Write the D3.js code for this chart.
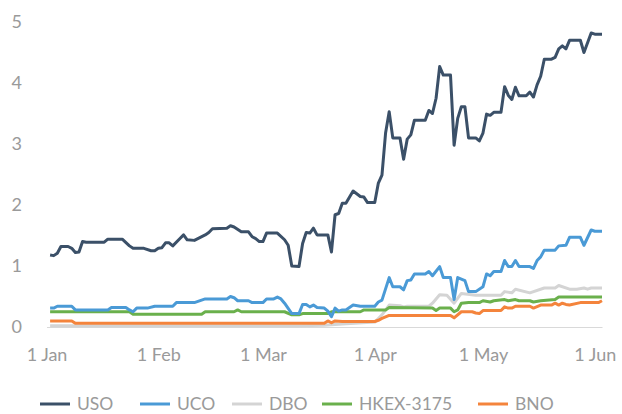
<!DOCTYPE html>
<html>
<head>
<meta charset="utf-8">
<script src="https://cdn.jsdelivr.net/npm/d3@7"></script>
<style>
  body { margin: 0; background: #fff; }
  text { font-family: Lato, "Open Sans", sans-serif; }
</style>
</head>
<body>
<script>
let width = 622;
let height = 414;

// series: [date (2020), value]
const uso = [
  ["01-02",1.18],["01-03",1.17],["01-04",1.21],["01-05",1.32],["01-07",1.32],["01-08",1.29],
  ["01-09",1.22],["01-10",1.23],["01-11",1.40],["01-12",1.39],["01-17",1.39],["01-18",1.44],
  ["01-22",1.44],["01-24",1.33],["01-25",1.29],["01-28",1.29],["01-30",1.25],["01-31",1.25],
  ["02-01",1.29],["02-02",1.30],["02-03",1.38],["02-04",1.38],["02-05",1.33],["02-07",1.45],
  ["02-08",1.51],["02-09",1.43],["02-11",1.42],["02-14",1.51],["02-15",1.55],["02-16",1.61],
  ["02-20",1.62],["02-21",1.66],["02-22",1.64],["02-24",1.56],["02-26",1.56],["02-27",1.48],
  ["02-28",1.45],["02-29",1.40],["03-01",1.40],["03-02",1.54],["03-05",1.54],["03-07",1.43],
  ["03-08",1.34],["03-09",1.00],["03-11",0.99],["03-12",1.37],["03-13",1.55],["03-14",1.54],
  ["03-15",1.62],["03-16",1.51],["03-19",1.51],["03-20",1.23],["03-21",1.84],["03-22",1.86],
  ["03-23",2.03],["03-24",2.03],["03-26",2.23],["03-28",2.14],["03-29",2.13],["03-30",2.04],
  ["04-01",2.04],["04-02",2.36],["04-03",2.49],["04-04",3.18],["04-05",3.53],["04-06",3.10],
  ["04-08",3.10],["04-09",2.75],["04-10",3.08],["04-11",3.15],["04-12",3.39],["04-15",3.39],
  ["04-16",3.55],["04-17",3.50],["04-18",3.75],["04-19",4.27],["04-20",4.13],["04-22",4.13],
  ["04-23",2.98],["04-24",3.42],["04-25",3.61],["04-26",3.61],["04-27",3.10],["04-29",3.10],
  ["04-30",3.05],["05-01",3.18],["05-02",3.49],["05-03",3.47],["05-04",3.52],["05-06",3.52],
  ["05-07",3.94],["05-08",3.80],["05-09",3.73],["05-10",3.93],["05-11",3.79],["05-13",3.79],
  ["05-14",3.85],["05-15",3.77],["05-16",3.97],["05-17",4.11],["05-18",4.39],["05-20",4.39],
  ["05-21",4.42],["05-22",4.56],["05-23",4.61],["05-24",4.56],["05-25",4.70],["05-28",4.70],
  ["05-29",4.50],["05-31",4.82],["06-01",4.80],["06-03",4.80]
];

const uco = [
  ["01-02",0.31],["01-03",0.31],["01-04",0.34],["01-08",0.34],["01-09",0.28],["01-18",0.28],
  ["01-19",0.32],["01-23",0.32],["01-24",0.28],["01-25",0.25],["01-26",0.31],["01-29",0.31],
  ["01-31",0.34],["02-05",0.34],["02-06",0.40],["02-11",0.40],["02-14",0.46],["02-20",0.46],
  ["02-21",0.50],["02-22",0.48],["02-23",0.43],["02-26",0.43],["02-27",0.40],["03-01",0.40],
  ["03-02",0.46],["03-04",0.46],["03-05",0.49],["03-06",0.46],["03-07",0.39],["03-09",0.22],
  ["03-11",0.22],["03-12",0.37],["03-13",0.37],["03-14",0.33],["03-15",0.36],["03-16",0.32],
  ["03-18",0.31],["03-19",0.26],["03-20",0.17],["03-21",0.31],["03-22",0.26],["03-23",0.28],
  ["03-24",0.28],["03-26",0.36],["03-28",0.34],["04-01",0.34],["04-02",0.41],["04-03",0.44],
  ["04-05",0.81],["04-06",0.66],["04-08",0.66],["04-09",0.61],["04-10",0.76],["04-11",0.77],
  ["04-12",0.87],["04-15",0.87],["04-16",0.91],["04-17",0.84],["04-19",0.99],["04-20",0.81],
  ["04-22",0.81],["04-23",0.45],["04-24",0.81],["04-26",0.76],["04-27",0.58],["04-29",0.58],
  ["05-01",0.66],["05-02",0.87],["05-03",0.84],["05-04",0.91],["05-06",0.91],["05-07",1.09],
  ["05-08",0.99],["05-09",0.99],["05-10",1.09],["05-11",0.99],["05-14",0.99],["05-15",0.96],
  ["05-16",1.09],["05-17",1.15],["05-18",1.26],["05-21",1.26],["05-22",1.33],["05-24",1.34],
  ["05-25",1.47],["05-28",1.47],["05-29",1.34],["05-31",1.59],["06-01",1.57],["06-03",1.57]
];

const dbo = [
  ["01-02",0.02],["03-11",0.02],["03-18",0.03],["03-23",0.05],["04-01",0.08],["04-02",0.14],
  ["04-03",0.20],["04-05",0.36],["04-08",0.35],["04-09",0.33],["04-10",0.34],["04-16",0.34],
  ["04-17",0.39],["04-19",0.53],["04-21",0.52],["04-23",0.39],["04-25",0.55],["04-29",0.52],
  ["05-06",0.52],["05-07",0.58],["05-09",0.56],["05-10",0.62],["05-14",0.56],["05-18",0.64],
  ["05-21",0.64],["05-22",0.68],["05-25",0.62],["05-27",0.62],["05-29",0.64],["05-30",0.62],
  ["05-31",0.64],["06-03",0.64]
];

const hkex = [
  ["01-02",0.25],["01-24",0.25],["01-25",0.21],["02-13",0.21],["02-14",0.25],["02-22",0.25],
  ["02-23",0.28],["02-24",0.25],["03-07",0.25],["03-09",0.20],["03-11",0.20],["03-12",0.22],
  ["03-19",0.22],["03-20",0.25],["03-28",0.25],["03-29",0.28],["04-04",0.28],["04-05",0.32],
  ["04-17",0.31],["04-18",0.27],["04-19",0.31],["04-22",0.31],["04-23",0.25],["04-24",0.28],
  ["04-25",0.39],["04-27",0.40],["04-30",0.40],["05-01",0.43],["05-03",0.41],["05-04",0.43],
  ["05-07",0.45],["05-08",0.43],["05-10",0.45],["05-11",0.43],["05-14",0.43],["05-15",0.41],
  ["05-17",0.43],["05-21",0.45],["05-22",0.49],["06-03",0.49]
];

const bno = [
  ["01-02",0.10],["01-08",0.10],["01-09",0.06],["03-18",0.06],["03-19",0.10],["03-20",0.07],
  ["03-21",0.10],["03-23",0.09],["04-01",0.09],["04-02",0.11],["04-03",0.14],["04-05",0.19],
  ["04-22",0.19],["04-23",0.15],["04-25",0.25],["04-28",0.25],["04-29",0.23],["04-30",0.22],
  ["05-01",0.27],["05-06",0.27],["05-07",0.33],["05-08",0.31],["05-09",0.31],["05-10",0.34],
  ["05-14",0.34],["05-15",0.31],["05-17",0.36],["05-20",0.36],["05-21",0.39],["05-22",0.36],
  ["05-23",0.39],["05-24",0.37],["05-25",0.36],["05-28",0.40],["06-02",0.40],["06-03",0.43]
];

const seriesNames = ["USO", "UCO", "DBO", "HKEX-3175", "BNO"];
const seriesData = [uso, uco, dbo, hkex, bno];
const colors = ["#3b5068", "#4a9ad6", "#d4d4d4", "#6ab04c", "#f4843c"];
const tickDates = ["01-01", "02-01", "03-01", "04-01", "05-01", "06-01"];
const yTicks = [0, 1, 2, 3, 4, 5];

const parse = s => d3.utcParse("%Y-%m-%d")("2020-" + s);

const x = d3.scaleUtc()
  .domain([parse("01-01"), parse("06-03")])
  .range([46.5, 602]);

const y = d3.scaleLinear()
  .domain([0, 5])
  .range([327, 22]);

const svg = d3.select("body")
  .append("svg")
  .attr("width", width)
  .attr("height", height)
  .attr("viewBox", [0, 0, width, height]);

// axes
svg.append("g")
  .attr("transform", "translate(0,327)")
  .call(d3.axisBottom(x)
    .tickValues(tickDates.map(parse))
    .tickFormat(d3.utcFormat("%-d %b"))
    .tickSize(0)
    .tickPadding(21))
  .call(g => g.select(".domain").attr("stroke", "#d9d9d9"))
  .call(g => g.selectAll("text")
    .attr("fill", "#9a9a9a")
    .style("font-size", "18px"));

svg.append("g")
  .attr("transform", "translate(22,0)")
  .call(d3.axisLeft(y).tickValues(yTicks).tickFormat(d3.format("d")).tickSize(0).tickPadding(0))
  .call(g => g.select(".domain").remove())
  .call(g => g.selectAll("text")
    .attr("fill", "#9a9a9a")
    .style("font-size", "18px"));

// lines
const line = d3.line()
  .x(d => x(parse(d[0])))
  .y(d => y(d[1]));

// draw back to front so USO sits on top
[2, 4, 3, 1, 0].forEach(i => {
  svg.append("path")
    .datum(seriesData[i])
    .attr("fill", "none")
    .attr("stroke", colors[i])
    .attr("stroke-width", 3)
    .attr("stroke-linejoin", "round")
    .attr("d", line);
});

// legend
const legendX = [40, 140, 232, 322, 478];
const legend = svg.append("g");
seriesNames.forEach((name, i) => {
  const g = legend.append("g").attr("transform", `translate(${legendX[i]},404)`);
  g.append("line")
    .attr("x1", 0).attr("x2", 30)
    .attr("stroke", colors[i])
    .attr("stroke-width", 3);
  g.append("text")
    .attr("x", 37)
    .attr("y", 6)
    .attr("fill", "#9a9a9a")
    .style("font-size", "17.5px")
    .text(name);
});
</script>
</body>
</html>
